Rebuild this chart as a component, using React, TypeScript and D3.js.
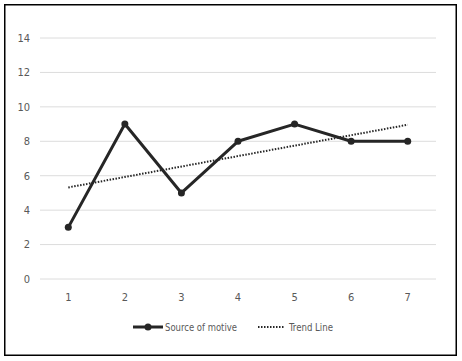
import React from "react";
import * as d3 from "d3";

const categories = ["1", "2", "3", "4", "5", "6", "7"];
const sourceOfMotive = [3, 9, 5, 8, 9, 8, 8];
const trendLine = [5.32, 8.96]; // values at first and last category
const yTicks = [0, 2, 4, 6, 8, 10, 12, 14];

const W = 462;
const H = 361;
const FONT = "'Liberation Sans Narrow', 'DejaVu Sans Condensed', 'Roboto Condensed', Arial, sans-serif";

export default function App() {
  const x = d3.scaleBand<string>().domain(categories).range([40, 436]);
  const cx = (c: string) => (x(c) as number) + x.bandwidth() / 2;
  const y = d3.scaleLinear().domain([0, 14]).range([279, 38]);

  const pts = categories.map((c, i) => [cx(c), y(sourceOfMotive[i])] as [number, number]);
  const line = d3.line<[number, number]>()(pts) || "";
  const trendPts: [number, number][] = [
    [cx(categories[0]), y(trendLine[0])],
    [cx(categories[categories.length - 1]), y(trendLine[1])],
  ];
  const trend = d3.line<[number, number]>()(trendPts) || "";

  return (
    <svg width={W} height={H} style={{ position: "absolute", left: 0, top: 0 }} fontFamily={FONT}>
      <rect x={0} y={0} width={W} height={H} fill="#fff" />
      <rect x={4.75} y={4.75} width={451.5} height={350.5} fill="none" stroke="#000" strokeWidth={1.5} />
      {yTicks.map((t) => (
        <g key={t}>
          <line x1={40} x2={436} y1={y(t)} y2={y(t)} stroke="#dcdcdc" strokeWidth={1} />
          <text x={30} y={y(t)} dy="0.35em" textAnchor="end" fontSize={11} fill="#595959">
            {t}
          </text>
        </g>
      ))}
      {categories.map((c) => (
        <text key={c} x={cx(c)} y={297} dy="0.35em" textAnchor="middle" fontSize={11} fill="#595959">
          {c}
        </text>
      ))}
      <path d={trend} fill="none" stroke="#262626" strokeWidth={2} strokeDasharray="1.5 1.5" />
      <path d={line} fill="none" stroke="#262626" strokeWidth={3} strokeLinejoin="round" />
      {pts.map((p, i) => (
        <circle key={i} cx={p[0]} cy={p[1]} r={3.5} fill="#262626" />
      ))}
      {/* legend */}
      <line x1={133} x2={163} y1={327} y2={327} stroke="#262626" strokeWidth={3} />
      <circle cx={148} cy={327} r={3.5} fill="#262626" />
      <text x={165} y={327} dy="0.35em" fontSize={11} fill="#595959" textLength={72} lengthAdjust="spacingAndGlyphs">
        Source of motive
      </text>
      <line x1={258} x2={284} y1={327} y2={327} stroke="#262626" strokeWidth={2} strokeDasharray="1.5 1.5" />
      <text x={289} y={327} dy="0.35em" fontSize={11} fill="#595959" textLength={44} lengthAdjust="spacingAndGlyphs">
        Trend Line
      </text>
    </svg>
  );
}
